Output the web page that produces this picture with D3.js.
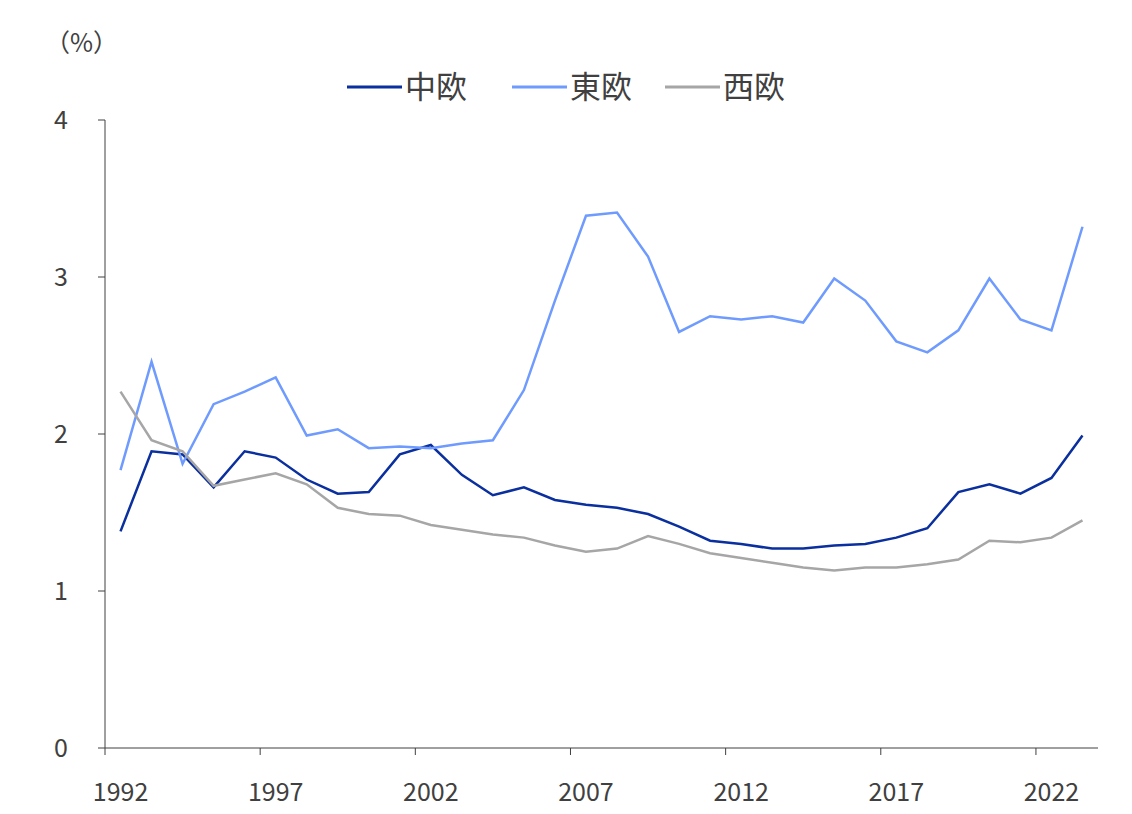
<!DOCTYPE html>
<html><head><meta charset="utf-8">
<script src="https://cdn.jsdelivr.net/npm/d3@7"></script>
<style>body{margin:0;background:#fff}text{font-family:"Noto Sans CJK JP",sans-serif;fill:#404040}</style>
</head><body>
<svg id="chart" width="1132" height="814"></svg>
<script>
var years = d3.range(1992, 2024);
var central = [1.38,1.89,1.87,1.66,1.89,1.85,1.71,1.62,1.63,1.87,1.93,1.74,1.61,1.66,1.58,1.55,1.53,1.49,1.41,1.32,1.30,1.27,1.27,1.29,1.30,1.34,1.40,1.63,1.68,1.62,1.72,1.99];
var eastern = [1.77,2.46,1.81,2.19,2.27,2.36,1.99,2.03,1.91,1.92,1.91,1.94,1.96,2.28,2.85,3.39,3.41,3.13,2.65,2.75,2.73,2.75,2.71,2.99,2.85,2.59,2.52,2.66,2.99,2.73,2.66,3.32];
var western = [2.27,1.96,1.89,1.67,1.71,1.75,1.68,1.53,1.49,1.48,1.42,1.39,1.36,1.34,1.29,1.25,1.27,1.35,1.30,1.24,1.21,1.18,1.15,1.13,1.15,1.15,1.17,1.20,1.32,1.31,1.34,1.45];
var names = ['中欧', '東欧', '西欧'];
var colors = ['#0a2f9e', '#6f9bff', '#a6a6a6'];
var series = [central, eastern, western];
var yTicks = [0, 1, 2, 3, 4];

var svg = d3.select('#chart');
var x = d3.scaleBand().domain(years).range([105, 1098]);
var y = d3.scaleLinear().domain([0, 4]).range([748, 120]);

// y axis
svg.append('line').attr('x1', 105).attr('x2', 105).attr('y1', 120).attr('y2', 748).attr('stroke', '#404040');
yTicks.forEach(function(t) {
  svg.append('line').attr('x1', 98).attr('x2', 105).attr('y1', y(t)).attr('y2', y(t)).attr('stroke', '#404040');
  svg.append('text').attr('x', 68).attr('y', y(t) + 9).attr('text-anchor', 'end').attr('font-size', 25).text(t);
});
// x axis
svg.append('line').attr('x1', 105).attr('x2', 1098).attr('y1', 748).attr('y2', 748).attr('stroke', '#404040');
years.forEach(function(yr) {
  if ((yr - 1992) % 5 === 0) {
    svg.append('line').attr('x1', x(yr)).attr('x2', x(yr)).attr('y1', 748).attr('y2', 755).attr('stroke', '#404040');
    svg.append('text').attr('x', x(yr) + x.bandwidth() / 2).attr('y', 801).attr('text-anchor', 'middle').attr('font-size', 25).text(yr);
  }
});
svg.append('text').attr('x', 45).attr('y', 52).attr('font-size', 25).text('（%）');

var line = d3.line().x(function(d, i) { return x(years[i]) + x.bandwidth() / 2; }).y(function(d) { return y(d); });
series.forEach(function(s, i) {
  svg.append('path').datum(s).attr('d', line).attr('fill', 'none').attr('stroke', colors[i]).attr('stroke-width', 2.5);
});

// legend
var lx = [347, 512, 665];
names.forEach(function(n, i) {
  svg.append('line').attr('x1', lx[i]).attr('x2', lx[i] + 55).attr('y1', 87).attr('y2', 87).attr('stroke', colors[i]).attr('stroke-width', 3);
  svg.append('text').attr('x', lx[i] + 58).attr('y', 98).attr('font-size', 31).text(n);
});
</script>
</body></html>
